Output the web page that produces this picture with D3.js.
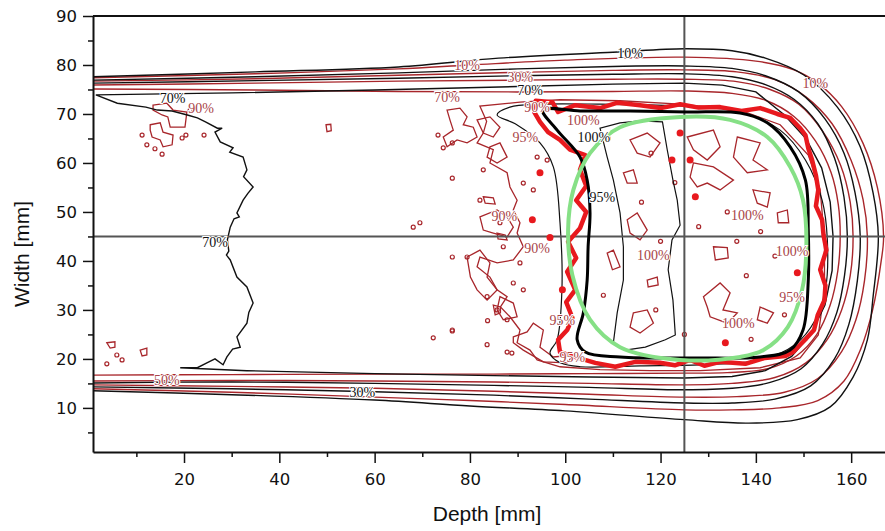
<!DOCTYPE html>
<html>
<head>
<meta charset="utf-8">
<script src="https://cdn.jsdelivr.net/npm/d3@7"></script>
<style>
body { margin: 0; background: #fff; }
svg { display: block; }
</style>
</head>
<body>
<div id="chart"></div>
<script>
// contour lines, [depth mm, width mm]
const black10 = [[0.9,77.6],[35,78.6],[65,79.6],[86,81.4],[110,82.6],[125,83.3],[135,82.9],[142,81.4],[150,78.0],[157.1,71.4],[161.9,63.3],[164.6,53.9],[165.7,44.9],[164.6,32.7],[163.4,23.9],[160.4,16.3],[155.6,10.2],[148.7,7.6],[138.2,6.9],[125,7.6],[100,9.4],[80,10.4],[60,11.6],[30,12.7],[0.9,13.5]];
const red10 = [[0.9,77.4],[35,78.2],[65,79.2],[80,80.0],[100,81.0],[125,81.6],[140,80.8],[148,79.0],[153,76.3],[158,71.5],[162.5,64],[165.5,55],[166.8,45],[166.3,40],[164.5,30],[162,22],[158.5,15.5],[153,11.5],[145,10],[135,9.6],[125,9.6],[100,10.7],[80,11.5],[60,12.2],[30,13.2],[0.9,13.9]];
const black30 = [[0.9,76.9],[35,77.6],[65,78.4],[90,79.2],[110,79.7],[125,79.8],[135,79.3],[142,77.8],[149,74.5],[154.5,69],[158.5,62],[160.8,54],[161.9,45],[161.3,36],[159.5,27],[156.5,20],[151.5,14.5],[144,11.8],[135,11.0],[125,11.0],[105,11.8],[85,12.6],[60,13.3],[30,13.9],[0.9,14.3]];
const red30 = [[0.9,76.7],[35,77.2],[65,77.9],[90,78.5],[110,78.9],[125,79.0],[136,78.6],[144,77.0],[150.5,73.5],[156,68],[160,60.5],[162.5,52.5],[163.4,45],[162.8,36],[161,28],[158,21.5],[153,16],[146,13.2],[136,12.3],[125,12.2],[105,12.8],[85,13.4],[60,14.0],[30,14.4],[0.9,14.7]];
const black50 = [[0.9,76.3],[35,76.8],[65,77.3],[90,77.8],[110,78.1],[125,78.2],[135,77.6],[142,76.0],[148,73],[153,68],[156.5,61],[158.5,53],[159.2,45],[158.6,37],[157,29.5],[154,23],[149.5,18],[143,15.2],[135,14.0],[125,13.7],[105,14.2],[85,14.6],[60,15.0],[30,15.3],[0.9,15.1]];
const red50 = [[0.9,75.9],[35,76.3],[65,76.7],[90,76.9],[110,77.1],[125,77.1],[136,76.6],[143,75.0],[149,72],[154,66.5],[157.8,59.5],[159.8,52],[160.4,45],[159.8,37],[158,30],[155,24],[150.5,19.2],[144,16.2],[135,15.0],[125,14.7],[105,15.0],[85,15.3],[60,15.5],[30,15.6],[0.9,15.5]];
const black70 = [[19.2,18.2],[33.2,17.6],[60,17.0],[85,16.6],[105,16.3],[125,16.1],[135,16.4],[142,17.6],[147.5,20.5],[151.5,25],[154.5,31],[156,38],[156.2,45],[155.6,52],[153.8,59],[150.5,65],[146,69.8],[140,74.5],[133,75.9],[125,76.3],[110,76.1],[90,75.6],[60,74.9],[30,74.3],[1.5,73.9],[6,72.2],[12,71.4],[14.4,70.8],[17.5,70.6],[20.7,69.8],[22.8,69.2],[24.5,68.4],[27.0,67.1],[28.0,67.1],[26.5,66.3],[27.6,64.3],[30.3,63.1],[29.6,62.2],[32.4,61.2],[33.2,58.6],[32.5,57.2],[34.5,55.1],[33.4,53.8],[32.4,52.4],[31.1,49.8],[31.6,49.0],[30.5,48.6],[29.7,46.9],[29.1,44.3],[29.4,42.0],[28.9,41.2],[29.7,40.2],[31.1,36.7],[33.2,34.7],[34.5,31.4],[33.6,29.5],[33.2,27.3],[31.1,24.5],[31.8,22.4],[30.2,22.0],[29.0,20.4],[28.2,18.8],[26.5,20.0],[24.8,19.2],[22.8,18.2],[19.2,18.2]];
const red70 = [[0.9,75.1],[35,74.9],[65,74.6],[90,74.5],[110,74.6],[125,74.7],[135,74.2],[142,72.8],[148,69.5],[152.5,64.5],[155.8,58],[157.3,51.5],[157.7,45],[157.2,38],[155.6,31],[152.8,25],[148.5,20.6],[142.5,18],[134,17.2],[125,17.1],[105,17.0],[85,16.9],[60,16.9],[30,16.8],[0.9,16.7]];
const black90 = [[85.7,69.8],[88.4,71.4],[94.7,72.0],[107.3,72.0],[125,71.6],[136.7,70.4],[145.1,66.7],[150.4,60.6],[153.9,52.4],[155,44.3],[154.6,34.1],[152.5,28.0],[148.2,22.9],[140.9,19.8],[128.3,18.8],[115.7,18.6],[103.2,18.4],[99.0,19.2],[96.8,21.2],[98.3,23.9],[99.3,34.1],[98.9,47.8],[97.5,59.2],[94.7,64.1],[89.5,68.0]];
const red90 = [[82.1,71.6],[83.5,68.5],[82.8,66.1],[81.5,64.1],[84.9,62.7],[84.2,60.0],[87.8,58.0],[88.4,55.1],[89.9,52.4],[89.1,50.4],[90.5,47.8],[89.9,45.7],[91.2,42.9],[89.1,40.2],[85.7,39.6],[82.1,40.8],[81.5,38.8],[84.2,36.7],[85.7,34.1],[87.8,32.7],[86.4,30.6],[88.4,28.6],[90.5,25.9],[89.9,23.3],[92.6,21.8],[94.1,19.8],[98.9,18.4],[107.3,17.8],[117.8,17.6],[128.3,17.6],[140.9,18.2],[149.3,20.2],[153.1,24.9],[154.4,34.1],[154.4,44.3],[153.5,54.5],[151.0,61.6],[145.1,67.8],[136.7,70.8],[124.1,72.0],[111.5,72.7],[98.9,72.9],[90.5,72.4]];
const black100 = [[107.3,67.1],[108.8,61.2],[110.1,56.5],[111.5,49.8],[112.2,42.9],[112.2,36.1],[110.9,29.4],[110.1,23.3],[112.6,21.8],[116.8,22.4],[121.0,23.9],[123.1,24.9],[122.6,32.0],[121.6,38.2],[122.4,44.3],[124.1,47.3],[123.5,52.4],[122.6,56.5],[121.4,62.7],[120.4,68.4],[115.7,68.6],[111.5,68.2]];
const black95 = [[95.3,70.8],[98.3,66.7],[103.1,61.2],[104.6,56.5],[105.2,49.8],[104.8,42.9],[104.6,36.1],[103.8,29.4],[102.5,23.9],[104.2,21.4],[111.5,20.4],[128.3,20.2],[140.9,20.4],[147.2,21.8],[149.9,25.9],[151.0,36.1],[151.0,46.3],[150.4,56.5],[147.2,63.3],[142.4,68.2],[136.7,70.2],[125.6,70.4],[113.6,70.6],[103.1,70.6]];
const red95 = [[93.8,72.7],[97.3,72.4],[98.5,70.4],[102.1,71.8],[107.3,71.2],[111,72.3],[115.7,71.8],[120,71.2],[124.1,72.0],[128,71.3],[132.5,71.4],[137,70.6],[140.9,71.2],[144.5,70.0],[147.2,69.2],[149.2,67.2],[150.4,65.7],[151.0,63.0],[151.8,60.6],[152.6,57.5],[153.1,54.5],[152.6,51.2],[153.9,48.4],[154.2,45.3],[154.8,42.2],[153.5,38.2],[154.6,35.0],[154.4,32.0],[153.0,29.0],[152.2,25.9],[150.6,24.2],[149.3,22.9],[147.8,21.4],[146.2,20.6],[141.9,20.2],[137.8,19.0],[132.5,19.4],[129.2,18.6],[126.2,19.8],[123,18.7],[119.9,19.2],[114.7,19.4],[110.5,18.4],[106.3,19.2],[102.7,20.2],[98.9,21.4],[98.5,23.9],[100.4,25.9],[101.5,28.4],[100.2,31.6],[102.1,34.1],[100.4,37.8],[102.3,40.6],[100.6,43.9],[103.1,46.7],[104.4,50.0],[102.3,52.4],[104.4,55.3],[103.1,58.6],[104.2,61.6],[101.0,62.7],[98.9,64.7],[96.4,66.3],[94.7,68.4],[93.5,70.4]];
const planned = [[124.1,69.4],[111.5,67.3],[105.2,62.0],[101.7,54.5],[100.6,46.3],[101.5,37.1],[105.2,28.0],[111.5,22.4],[124.1,19.8],[136.7,20.4],[141.6,21.8],[146.7,26.5],[149.7,34.1],[150.6,42.9],[149.9,52.4],[147.2,59.2],[142.4,65.3],[134.6,68.8]];

// small red islands
const redIslands = [
  [[13.5,71.8],[16.4,72.2],[17.7,70.8],[20.6,70.4],[20.2,67.3],[17.1,67.3],[16.6,69.4],[15.4,69.8],[13.5,70.8]],
  [[12.9,67.8],[15.0,68.2],[15.6,66.3],[17.7,65.7],[17.5,63.7],[15.6,63.3],[15.0,64.7],[13.3,65.3],[12.9,66.7]],
  [[3.8,23.3],[5.5,23.5],[5.5,22.4],[4.5,22.2]],
  [[10.8,21.8],[12.2,22.2],[12.2,20.8],[11.2,20.6]],
  [[49.8,67.8],[50.8,67.9],[50.9,66.6],[50.0,66.4]],
  [[75.2,70.8],[77.9,71.2],[79.4,69.4],[78.6,67.8],[80.7,67.3],[81.5,65.3],[79.4,64.1],[77.3,64.7],[75.2,63.3],[74.4,65.3],[76.5,66.7],[75.8,68.8]],
  [[82.8,53.1],[84.9,52.9],[85.3,51.6],[83.2,51.8]],
  [[85.7,45.7],[87.4,45.3],[87.8,44.3],[85.9,44.5]],
  [[82.1,49.0],[85.7,50.4],[87.8,49.0],[89.1,46.9],[87.8,44.9],[84.9,45.7],[82.8,46.3]],
  [[79.4,40.8],[82.1,42.2],[84.2,39.6],[83.6,36.7],[85.7,34.1],[83.6,32.0],[81.5,34.1],[80.1,36.7]],
  [[86.3,32.7],[89.1,31.4],[89.9,28.6],[87.0,28.0],[85.7,30.0]],
  [[81.5,68.8],[84.2,69.4],[86.3,67.3],[84.9,65.3],[82.8,66.1]],
  [[84.2,63.3],[86.3,64.1],[87.8,61.2],[85.7,60.0],[83.6,61.2]],
  [[84.9,31.0],[86.4,30.6],[86.4,29.4],[85.3,29.0]],
  [[89.1,24.5],[92.0,25.5],[93.3,27.3],[95.4,25.9],[94.7,22.4],[97.5,20.4],[101.7,20.8],[100.4,19.2],[95.4,19.4],[91.2,21.8],[89.1,23.3]],
  [[113.6,64.7],[117.2,66.1],[119.9,64.1],[117.8,61.2],[115.1,62.0]],
  [[125.6,65.3],[131.1,66.7],[132.5,63.3],[129.8,60.6],[126.9,62.7]],
  [[136.1,65.3],[140.9,64.1],[139.4,60.6],[142.4,58.6],[138.2,58.0],[135.3,61.2]],
  [[126.9,60.0],[131.1,59.2],[135.3,56.5],[132.5,54.5],[129.8,55.9],[127.7,55.1],[126.2,57.1]],
  [[139.4,54.5],[143.0,53.9],[142.4,51.0],[140.3,51.8]],
  [[144.5,49.8],[146.6,50.4],[146.9,47.8],[144.7,47.8]],
  [[131.1,42.9],[134.0,42.7],[134.2,40.6],[131.5,40.2]],
  [[129.0,32.7],[132.5,35.5],[134.6,33.5],[133.1,30.0],[136.1,29.4],[134.0,27.3],[130.4,28.6],[129.8,30.6]],
  [[140.9,30.6],[143.7,29.4],[142.4,27.3],[140.3,28.0]],
  [[112.2,58.0],[114.3,58.6],[115.1,55.9],[113.0,55.9]],
  [[113.0,48.4],[115.1,49.8],[117.2,46.3],[115.7,44.3],[113.6,45.7]],
  [[117.2,36.1],[119.3,36.7],[119.5,35.1],[117.4,34.7]],
  [[114.3,29.4],[117.2,30.0],[118.5,27.3],[115.7,25.3],[113.6,26.5]],
  [[108.8,41.6],[110.1,42.2],[111.5,38.8],[109.9,38.2]]
];
// small red rings and filled spots
const redRings = [[5.9,20.8],[7.0,19.8],[3.8,19.0],[11.2,65.7],[12.2,63.7],[13.9,62.9],[15.4,61.8],[19.6,65.1],[20.4,65.7],[24.2,65.7],[21.3,70.8],[73.3,65.7],[76.3,64.1],[74.4,63.1],[76.3,56.9],[82.8,58.6],[82.1,52.4],[68.1,46.9],[69.5,47.8],[76.3,40.8],[79.4,40.8],[83.6,32.7],[72.3,24.3],[76.3,25.9],[83.6,22.9],[85.7,30.0],[87.8,28.0],[89.1,35.5],[91.2,34.1],[90.5,39.6],[87.0,42.9],[86.3,47.8],[93.3,54.5],[91.2,55.9],[96.2,60.6],[94.1,61.2],[76.3,25.7],[83.7,27.8],[87.8,21.4],[88.8,21.2],[120,44],[138,37],[128,47],[144,41],[116,52],[134,50],[108,33],[119,30],[125,25],[139,24],[146,29],[123,56],[118,62],[141,46],[136,44],[109,65]];
const redSpots = [[122.4,60.6],[126.2,60.6],[127.3,53.1],[124.1,66.1],[133.6,23.3],[148.7,37.6],[94.7,58.0],[93.1,48.4],[99.4,34.1],[96.8,44.8]];

// contour labels
const labels = [
  [113.6,82.4,"10%","b"],[92.6,74.9,"70%","b"],[17.6,73.2,"70%","b"],[26.5,43.9,"70%","b"],
  [106.0,65.2,"100%","b"],[107.8,53.1,"95%","b"],[57.4,13.3,"30%","b"],
  [79.4,80.0,"10%","r"],[152.5,76.3,"10%","r"],[90.6,77.6,"30%","r"],[75.2,73.5,"70%","r"],
  [94.1,71.4,"90%","r"],[23.6,71.2,"90%","r"],[16.4,15.7,"50%","r"],[103.8,68.8,"100%","r"],
  [91.6,65.3,"95%","r"],[87.2,49.2,"90%","r"],[94.1,42.7,"90%","r"],[99.4,28.0,"95%","r"],
  [101.5,20.4,"95%","r"],[118.5,41.2,"100%","r"],[138.2,49.4,"100%","r"],[147.6,42.0,"100%","r"],
  [147.6,32.7,"95%","r"],[136.3,27.3,"100%","r"]
];

const yTicks = [10, 20, 30, 40, 50, 60, 70, 80, 90];
const yMinor = [5, 15, 25, 35, 45, 55, 65, 75, 85];
const xTicks = [20, 40, 60, 80, 100, 120, 140, 160];
const xMinor = [10, 30, 50, 70, 90, 110, 130, 150];
const crossDepth = 125;
const crossWidth = 45;

const width = 885;
const height = 531;
const margin = {top: 16, right: 0, bottom: 79, left: 93};

const svg = d3.select("#chart")
  .append("svg")
  .attr("width", width)
  .attr("height", height)
  .attr("viewBox", [0, 0, width, height]);

const x = d3.scaleLinear()
  .domain([0.9, 167.1])
  .range([margin.left, width - margin.right]);

const y = d3.scaleLinear()
  .domain([1, 90])
  .range([height - margin.bottom, margin.top]);

svg.append("clipPath").attr("id", "plot")
  .append("rect")
  .attr("x", margin.left).attr("y", margin.top)
  .attr("width", width - margin.left - margin.right)
  .attr("height", height - margin.top - margin.bottom);

const smooth = d3.line().x(d => x(d[0])).y(d => y(d[1])).curve(d3.curveCatmullRom);
const jagged = d3.line().x(d => x(d[0])).y(d => y(d[1]));
const jaggedClosed = d3.line().x(d => x(d[0])).y(d => y(d[1])).curve(d3.curveLinearClosed);
const smoothClosed = d3.line().x(d => x(d[0])).y(d => y(d[1])).curve(d3.curveCatmullRomClosed);

const plot = svg.append("g").attr("clip-path", "url(#plot)").attr("fill", "none");

const darkRed = "#a8262b";

// thin red noise
plot.append("g")
  .attr("stroke", darkRed).attr("stroke-width", 1.3)
  .selectAll("path")
  .data(redIslands)
  .join("path")
  .attr("d", jaggedClosed);

plot.append("g")
  .attr("stroke", darkRed).attr("stroke-width", 1.2)
  .selectAll("circle")
  .data(redRings)
  .join("circle")
  .attr("cx", d => x(d[0]))
  .attr("cy", d => y(d[1]))
  .attr("r", 2);

plot.append("path").attr("d", jaggedClosed(red90)).attr("stroke", darkRed).attr("stroke-width", 1.3);

// outer band contours
[red10, red30, red50, red70].forEach(c => {
  plot.append("path").attr("d", smooth(c)).attr("stroke", darkRed).attr("stroke-width", 1.4);
});
[black10, black30, black50].forEach(c => {
  plot.append("path").attr("d", smooth(c)).attr("stroke", "#111").attr("stroke-width", 1.4);
});
plot.append("path").attr("d", jagged(black70)).attr("stroke", "#111").attr("stroke-width", 1.4);
plot.append("path").attr("d", smoothClosed(black90)).attr("stroke", "#111").attr("stroke-width", 1.2);
plot.append("path").attr("d", jaggedClosed(black100)).attr("stroke", "#111").attr("stroke-width", 1.2);

// cross hair
plot.append("line")
  .attr("x1", x(crossDepth)).attr("x2", x(crossDepth))
  .attr("y1", margin.top).attr("y2", height - margin.bottom)
  .attr("stroke", "#555").attr("stroke-width", 2);
plot.append("line")
  .attr("x1", margin.left).attr("x2", width)
  .attr("y1", y(crossWidth)).attr("y2", y(crossWidth))
  .attr("stroke", "#555").attr("stroke-width", 2);

// thick contours and planned volume
plot.append("path").attr("d", jaggedClosed(red95)).attr("stroke", "#e8191e").attr("stroke-width", 4.5).attr("stroke-linejoin", "round");
plot.append("path").attr("d", smoothClosed(black95)).attr("stroke", "#000").attr("stroke-width", 3);

plot.append("g")
  .attr("fill", "#e8191e")
  .selectAll("circle")
  .data(redSpots)
  .join("circle")
  .attr("cx", d => x(d[0]))
  .attr("cy", d => y(d[1]))
  .attr("r", 3.5);

plot.append("path").attr("d", smoothClosed(planned)).attr("stroke", "#86e086").attr("stroke-width", 4);

// labels
plot.append("g")
  .attr("font-family", "'Liberation Serif', 'DejaVu Serif', serif")
  .attr("font-size", 14)
  .attr("text-anchor", "middle")
  .selectAll("text")
  .data(labels)
  .join("text")
  .attr("x", d => x(d[0]))
  .attr("y", d => y(d[1]) + 5)
  .attr("fill", d => d[3] == "b" ? "#111" : "#a84448")
  .attr("stroke", "#fff").attr("stroke-width", 2).attr("paint-order", "stroke")
  .text(d => d[2]);

// axes
function yAxis(g) {
  g.attr("transform", `translate(${margin.left}, 0)`)
    .call(d3.axisLeft(y).tickValues(yTicks).tickSize(10).tickPadding(6).tickSizeOuter(0))
    .call(g => g.select(".domain").attr("stroke-width", 2))
    .call(g => g.selectAll(".tick line").attr("stroke-width", 1.5))
    .attr("font-size", 16.5)
    .attr("font-family", "'DejaVu Sans', sans-serif")
    .attr("color", "#111");
}

function yMinorAxis(g) {
  g.attr("transform", `translate(${margin.left}, 0)`)
    .call(d3.axisLeft(y).tickValues(yMinor).tickSize(5).tickFormat("").tickSizeOuter(0))
    .call(g => g.select(".domain").remove())
    .call(g => g.selectAll(".tick line").attr("stroke-width", 1.5))
    .attr("color", "#111");
}

function xAxis(g) {
  g.attr("transform", `translate(0, ${height - margin.bottom})`)
    .call(d3.axisBottom(x).tickValues(xTicks).tickSize(11).tickPadding(10).tickSizeOuter(0))
    .call(g => g.select(".domain").attr("stroke-width", 2))
    .call(g => g.selectAll(".tick line").attr("stroke-width", 1.5))
    .attr("font-size", 16.5)
    .attr("font-family", "'DejaVu Sans', sans-serif")
    .attr("color", "#111");
}

function xMinorAxis(g) {
  g.attr("transform", `translate(0, ${height - margin.bottom})`)
    .call(d3.axisBottom(x).tickValues(xMinor).tickSize(5).tickFormat("").tickSizeOuter(0))
    .call(g => g.select(".domain").remove())
    .call(g => g.selectAll(".tick line").attr("stroke-width", 1.5))
    .attr("color", "#111");
}

svg.append("g").call(yAxis);
svg.append("g").call(yMinorAxis);
svg.append("g").call(xAxis);
svg.append("g").call(xMinorAxis);

svg.append("line")
  .attr("x1", margin.left).attr("x2", width)
  .attr("y1", margin.top).attr("y2", margin.top)
  .attr("stroke", "#111").attr("stroke-width", 2);

svg.append("text")
  .attr("x", 487)
  .attr("y", 521)
  .attr("text-anchor", "middle")
  .attr("font-family", "'Liberation Sans', Arial, sans-serif")
  .attr("font-size", 21)
  .attr("fill", "#111")
  .text("Depth [mm]");

svg.append("text")
  .attr("transform", "translate(29, 254) rotate(-90)")
  .attr("text-anchor", "middle")
  .attr("font-family", "'Liberation Sans', Arial, sans-serif")
  .attr("font-size", 21)
  .attr("fill", "#111")
  .text("Width [mm]");
</script>
</body>
</html>
